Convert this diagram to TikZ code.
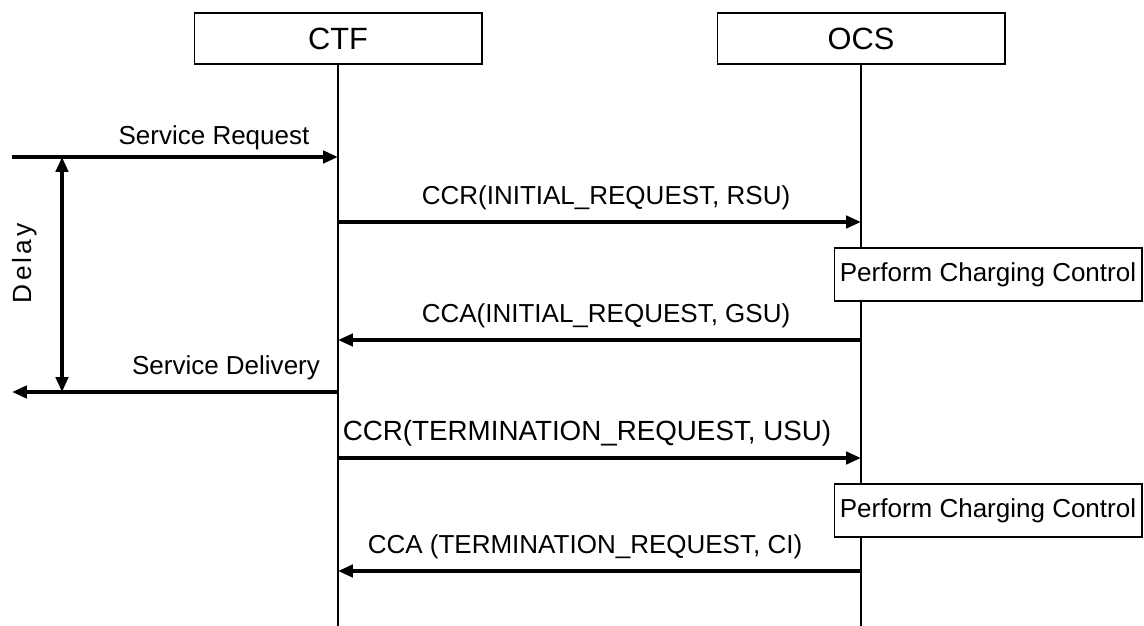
\documentclass[tikz,border=0pt]{standalone}
\usepackage{fontspec}
\setmainfont{Liberation Sans}
\usetikzlibrary{arrows.meta}

\begin{document}
\begin{tikzpicture}[
    x=0.02cm, y=-0.02cm,
    entity/.style={rectangle, draw=black, line width=0.6pt, fill=white, minimum width=5.76cm, minimum height=1.02cm, font=\fontsize{17.5}{20}\selectfont},
    action/.style={rectangle, draw=black, line width=0.6pt, fill=white, minimum width=6.16cm, minimum height=1.06cm, inner sep=0pt, font=\fontsize{14.8}{17}\selectfont},
    lifeline/.style={line width=0.6pt},
    msg/.style={-{Triangle[length=8.5pt, width=7pt]}, line width=2pt},
    span/.style={{Triangle[length=8.5pt, width=7pt]}-{Triangle[length=8.5pt, width=7pt]}, line width=2pt},
    lbl/.style={anchor=base, inner sep=0pt, font=\fontsize{14.8}{17}\selectfont},
]
\useasboundingbox (0,0) rectangle (1144,626);

\node[entity] (ctf) at (338,38.5) {CTF};
\node[entity] (ocs) at (861,38.5) {OCS};

\coordinate (ctfend) at (338,626);
\coordinate (ocsend) at (861,626);
\draw[lifeline] (ctf) -- (ctfend);
\draw[lifeline] (ocs) -- (ocsend);

\node[action] (pcc1) at (988,274.5) {Perform Charging Control};
\node[action] (pcc2) at (988,510.5) {Perform Charging Control};

% ends of the messages on the lifelines
\coordinate (ue1) at (12,157);
\coordinate (ctf1) at (338,157);
\coordinate (ctf2) at (338,222);
\coordinate (ocs2) at (861,222);
\coordinate (ctf3) at (338,340);
\coordinate (ocs3) at (861,340);
\coordinate (ue4) at (12,392);
\coordinate (ctf4) at (338,392);
\coordinate (ctf5) at (338,458);
\coordinate (ocs5) at (861,458);
\coordinate (ctf6) at (338,571);
\coordinate (ocs6) at (861,571);
\coordinate (dtop) at (62,157);
\coordinate (dbot) at (62,392);

\draw[msg] (ue1) -- (ctf1);
\draw[msg] (ctf2) -- (ocs2);
\draw[msg] (ocs3) -- (ctf3);
\draw[msg] (ctf4) -- (ue4);
\draw[msg] (ctf5) -- (ocs5);
\draw[msg] (ocs6) -- (ctf6);
\draw[span] (dtop) -- (dbot);

\node[lbl] (sreq) at (214,144) {Service Request};
\node[lbl] (ccr1) at (606,204) {CCR(INITIAL\_REQUEST, RSU)};
\node[lbl] (cca1) at (606,322) {CCA(INITIAL\_REQUEST, GSU)};
\node[lbl] (sdel) at (226,374) {Service Delivery};
\node[lbl, font=\fontsize{15.8}{18}\selectfont] (ccr2) at (587,440) {CCR(TERMINATION\_REQUEST, USU)};
\node[lbl] (cca2) at (585,553) {CCA (TERMINATION\_REQUEST, CI)};
\node[lbl, anchor=center, rotate=90, font=\fontsize{15}{17}\selectfont\addfontfeature{LetterSpace=12}] (delay) at (25,263) {Delay};

\end{tikzpicture}
\end{document}
